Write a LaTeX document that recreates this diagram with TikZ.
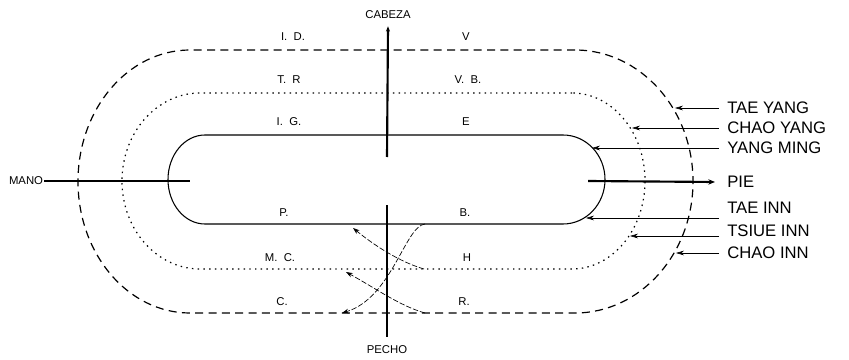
\documentclass[tikz,border=0pt]{standalone}
\usepackage{fontspec}
\setmainfont{Liberation Sans}
\usetikzlibrary{arrows.meta}
\begin{document}
\begin{tikzpicture}[x=0.75pt,y=0.75pt,yscale=-1,xscale=1,
  axisline/.style={line width=1.6pt},
  outerpath/.style={line width=0.9pt,dash pattern={on 6pt off 4pt}},
  middlepath/.style={line width=0.9pt,dash pattern={on 1.1pt off 3.2pt}},
  innerpath/.style={line width=0.8pt},
  crossarrow/.style={line width=0.5pt,dash pattern={on 4pt off 1.5pt},-{Stealth[length=5pt,width=3.5pt]}},
  pointer/.style={line width=0.5pt,-{Stealth[length=6pt,width=3.5pt]}},
  smalllabel/.style={inner sep=0.75pt,font=\fontsize{8.5}{10}\selectfont},
  biglabel/.style={anchor=west,inner ysep=0.75pt,inner xsep=6pt,font=\fontsize{12.5}{14}\selectfont}]
\useasboundingbox (0,0) rectangle (849,360);
%Shape: Outer loop
\draw [outerpath] (575,50) -- (190,50) arc [start angle=-90, end angle=-270, x radius=112, y radius=131.5] -- (575,313) arc [start angle=90, end angle=-90, x radius=118, y radius=131.5] ;
%Shape: Middle loop
\draw [middlepath] (572,93) -- (200,93) arc [start angle=-90, end angle=-270, x radius=78, y radius=88] -- (572,269) arc [start angle=90, end angle=-90, x radius=73, y radius=88] ;
%Shape: Inner loop
\draw [innerpath] (563,135) -- (205,135) arc [start angle=-90, end angle=-270, x radius=37, y radius=44.5] -- (563,224) arc [start angle=90, end angle=-90, x radius=42, y radius=44.5] ;

% Text Node
\draw (388,15) node [smalllabel] (cabeza) {CABEZA};
\draw (387,350) node [smalllabel] (pecho) {PECHO};
\draw (26,181) node [smalllabel] (mano) {MANO};
% Text Node
\draw (293,37) node [smalllabel] (id) {I.\ \ D.};
\draw (466,37) node [smalllabel] (v) {V};
\draw (289,80) node [smalllabel] (tr) {T.\ \ R};
\draw (468,80) node [smalllabel] (vb) {V.\ \ B.};
\draw (289,122) node [smalllabel] (ig) {I.\ \ G.};
\draw (466,122) node [smalllabel] (e) {E};
\draw (284,213) node [smalllabel] (p) {P.};
\draw (465,213) node [smalllabel] (b) {B.};
\draw (280,258) node [smalllabel] (mc) {M.\ \ C.};
\draw (467,258) node [smalllabel] (h) {H};
\draw (282,302) node [smalllabel] (c) {C.};
\draw (464,302) node [smalllabel] (r) {R.};
% Text Node
\draw (719,108) node [biglabel] (taeyang) {TAE YANG};
\draw (719,128) node [biglabel] (chaoyang) {CHAO YANG};
\draw (719,148) node [biglabel] (yangming) {YANG MING};
\draw (719,182) node [biglabel] (pie) {PIE};
\draw (719,208) node [biglabel] (taeinn) {TAE INN};
\draw (719,231) node [biglabel] (tsiueinn) {TSIUE INN};
\draw (719,253) node [biglabel] (chaoinn) {CHAO INN};

%Straight Lines: axes
\coordinate (topend) at (387,157);
\coordinate (botstart) at (387,205);
\coordinate (leftend) at (190,181);
\coordinate (rightstart) at (588,181);
\draw [axisline,-{Stealth[length=4pt,width=3pt]}] (topend) -- ([yshift=4.5pt]cabeza.south) ;
\draw [axisline] (botstart) -- ([yshift=-6pt]pecho.north) ;
\draw [axisline] (mano.east) -- (leftend) ;
\draw [axisline,-{Stealth[length=5pt,width=4pt]}] (rightstart) -- ([xshift=-3pt]pie.west) ;

%Straight Lines: pointers
\coordinate (tytip) at (675,108);
\coordinate (cytip) at (632,128);
\coordinate (ymtip) at (592,148);
\coordinate (titip) at (586,218);
\coordinate (tstip) at (630,236);
\coordinate (citip) at (676,253);
\draw [pointer] (taeyang.west) -- (tytip) ;
\draw [pointer] (chaoyang.west) -- (cytip) ;
\draw [pointer] (yangming.west) -- (ymtip) ;
\draw [pointer] ([yshift=7.5pt]taeinn.west) -- (titip) ;
\draw [pointer] ([yshift=3.75pt]tsiueinn.west) -- (tstip) ;
\draw [pointer] (chaoinn.west) -- (citip) ;

%Curves: crossing arrows
\coordinate (hstart) at (424,269);
\coordinate (pend) at (353,228);
\coordinate (rstart) at (425,313);
\coordinate (mcend) at (346,272);
\coordinate (bstart) at (425,224);
\coordinate (cend) at (342,313);
\draw [crossarrow] (hstart) .. controls (400,262) and (375,246) .. (pend) ;
\draw [crossarrow] (rstart) .. controls (400,306) and (375,288) .. (mcend) ;
\draw [crossarrow] (bstart) .. controls (405,226) and (392,298) .. (cend) ;
\end{tikzpicture}
\end{document}
